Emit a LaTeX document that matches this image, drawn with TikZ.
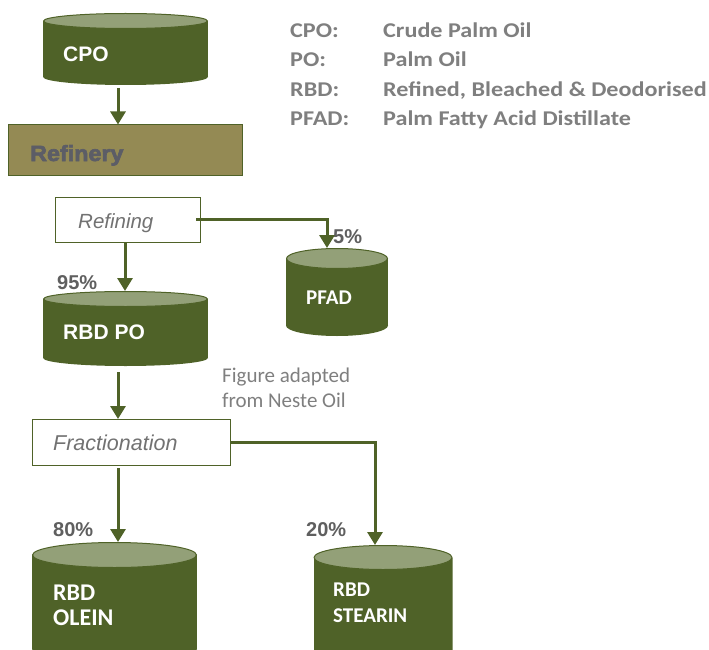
\documentclass[tikz,border=0pt]{standalone}
\usepackage{fontspec}
\setmainfont{Liberation Sans}
\newfontfamily\carlito{Carlito}
\newfontfamily\legendfont{Carlito}[FakeStretch=1.15]
\newfontfamily\heavysans{Liberation Sans}[BoldFeatures={FakeBold=3,FakeStretch=1.06}]
\usetikzlibrary{arrows.meta}

\definecolor{tankbody}{HTML}{4F6228}
\definecolor{tanktop}{HTML}{93A078}
\definecolor{refinefill}{HTML}{948A54}
\definecolor{refinetext}{HTML}{5C5D66}
\definecolor{pcttext}{HTML}{5F5F5F}
\definecolor{legendtext}{HTML}{7F7F7F}

\begin{document}
\begin{tikzpicture}[
  x=1pt,y=-1pt,
  tank/.style n args={3}{rectangle,inner sep=0pt,outer sep=0pt,
    minimum width=#1,minimum height=#2,
    path picture={
      \fill[tankbody] ([yshift=-#3]path picture bounding box.north west)
        rectangle ([yshift=#3]path picture bounding box.south east);
      \fill[tankbody] ([yshift=#3]path picture bounding box.south)
        ellipse [x radius=#1/2, y radius=#3];
      \filldraw[fill=tanktop,draw=tankbody,line width=1pt]
        ([yshift=-#3]path picture bounding box.north)
        ellipse [x radius=#1/2-0.5, y radius=#3-0.5];
    }},
  tanklabel/.style={text=white,anchor=base west,inner sep=0pt,
    font=\bfseries\fontsize{21}{23}\selectfont},
  procbox/.style={draw=tankbody,line width=1pt,fill=white,inner sep=0pt,outer sep=0pt},
  proclabel/.style={text=legendtext!90!black,anchor=base west,inner sep=0pt,
    font=\itshape\fontsize{20.5}{22}\selectfont},
  pct/.style={text=pcttext,anchor=base west,inner sep=0pt,
    font=\bfseries\fontsize{20}{22}\selectfont},
  legend/.style={text=legendtext,anchor=base west,inner sep=0pt,
    font=\legendfont\bfseries\fontsize{21}{23}\selectfont},
  flow/.style={draw=tankbody,line width=3pt,
    -{Triangle[length=13pt,width=15pt]}}
]
  \useasboundingbox (0,0) rectangle (709,650);

  % tanks and boxes
  \node[tank={165}{72}{8}] (cpo) at (125.5,49) {};
  \node[draw=tankbody,line width=1pt,fill=refinefill,minimum width=234,minimum height=51,
    inner sep=0pt,outer sep=0pt] (refinery) at (125,150) {};
  \node[procbox,minimum width=145,minimum height=45] (refining) at (127.5,219.5) {};
  \node[tank={102}{88}{10.5}] (pfad) at (337,292) {};
  \node[tank={165}{75}{8}] (rbdpo) at (125.5,328.5) {};
  \node[procbox,minimum width=198,minimum height=46] (fraction) at (131,442) {};
  \node[tank={165}{120}{13}] (olein) at (114.5,602) {};
  \node[tank={139}{120}{12.5}] (stearin) at (383,605) {};

  % texts
  \node[tanklabel] (cpotext) at (63,62) {CPO};
  \node[text=refinetext,anchor=base west,inner sep=0pt,
    font=\heavysans\bfseries\fontsize{22}{24}\selectfont] (refinerytext) at (30,161) {Refinery};
  \node[proclabel] (refiningtext) at (78,228) {Refining};
  \node[pct] (p5) at (333,243) {5\%};
  \node[pct] (p95) at (57,289) {95\%};
  \node[tanklabel] (rbdpotext) at (63,339) {RBD PO};
  \node[tanklabel,font=\carlito\bfseries\fontsize{21}{23}\selectfont] (pfadtext) at (306,304) {PFAD};
  \node[text=legendtext,anchor=base west,inner sep=0pt,align=left,
    font=\carlito\fontsize{21}{25}\selectfont] (credit) at (222,407) {Figure adapted\\from Neste Oil};
  \node[proclabel,font=\itshape\fontsize{21.5}{23}\selectfont] (fractiontext) at (53,450) {Fractionation};
  \node[pct] (p80) at (53,536) {80\%};
  \node[pct] (p20) at (306,536) {20\%};
  \node[tanklabel,font=\carlito\bfseries\fontsize{24}{26}\selectfont] (oleintext1) at (53,600) {RBD};
  \node[tanklabel,font=\carlito\bfseries\fontsize{24}{26}\selectfont] (oleintext2) at (53,625) {OLEIN};
  \node[tanklabel,font=\carlito\bfseries\fontsize{21}{23}\selectfont] (stearintext1) at (333,596) {RBD};
  \node[tanklabel,font=\carlito\bfseries\fontsize{21}{23}\selectfont] (stearintext2) at (333,622) {STEARIN};

  % legend
  \node[legend] (k1) at (290,38) {CPO:};
  \node[legend] (v1) at (383,38) {Crude Palm Oil};
  \node[legend] (k2) at (290,67) {PO:};
  \node[legend] (v2) at (383,67) {Palm Oil};
  \node[legend] (k3) at (290,97) {RBD:};
  \node[legend] (v3) at (383,97) {Refined, Bleached \& Deodorised};
  \node[legend] (k4) at (290,126) {PFAD:};
  \node[legend] (v4) at (383,126) {Palm Fatty Acid Distillate};

  % flows
  \draw[flow] ([xshift=-7.5]cpo.south) ++(0,3) -- ([xshift=-7]refinery.north);
  \draw[flow] ([xshift=-2.5]refining.south) ++(0,1) -- ([xshift=-0.5]rbdpo.north);
  \draw[flow] ([xshift=-4]refining.east) -| ([xshift=-10]pfad.north);
  \draw[flow] ([xshift=-7.5]rbdpo.south) ++(0,6) -- ([xshift=-13]fraction.north);
  \draw[flow] ([xshift=-13]fraction.south) ++(0,3) -- ([xshift=3.5]olein.north);
  \draw[flow] (fraction.east) -| ([xshift=-8]stearin.north);
\end{tikzpicture}
\end{document}
